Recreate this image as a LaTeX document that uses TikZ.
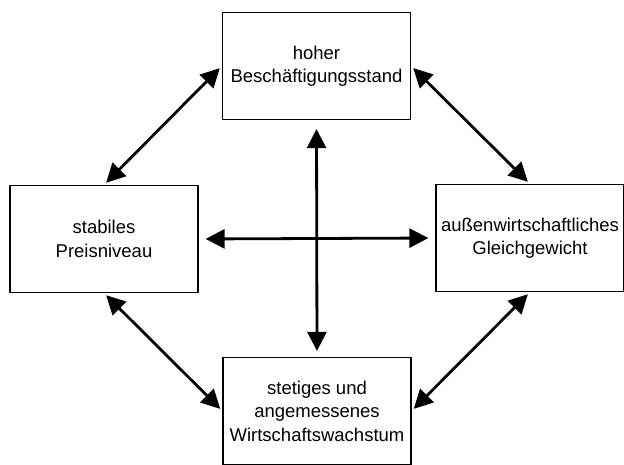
\documentclass[tikz,border=0pt]{standalone}
\usepackage{fontspec}
\setmainfont{Liberation Sans}
\usetikzlibrary{arrows.meta}
\begin{document}
\begin{tikzpicture}[x=1pt,y=-1pt,
  box/.style={draw=black,line width=1.2pt,minimum width=188pt,minimum height=107pt,
    align=center,inner sep=0pt,font=\fontsize{18.5}{23.5}\selectfont},
  arr/.style={line width=2.8pt,{Triangle[length=19pt,width=19pt]}-{Triangle[length=19pt,width=19pt]}}]
\useasboundingbox (0,0) rectangle (624,465);
\node[box] (T) at (316.5,66) {hoher\\Beschäftigungsstand};
\node[box] (L) at (104,239) {stabiles\\Preisniveau};
\node[box] (R) at (530,238) {außenwirtschaftliches\\Gleichgewicht};
\node[box] (B) at (317,411) {stetiges und\\angemessenes\\Wirtschaftswachstum};
\draw[arr,shorten <=3pt,shorten >=3pt] (L.north) -- (T.west);
\draw[arr,shorten <=3pt,shorten >=3pt] (T.east) -- (R.north);
\draw[arr,shorten <=3pt,shorten >=3pt] (L.south) -- (B.west);
\draw[arr,shorten <=3pt,shorten >=3pt] (R.south) -- (B.east);
\draw[arr,shorten <=9pt,shorten >=6pt] (T.south) -- (B.north);
\draw[arr,shorten <=7pt,shorten >=7pt] (L.east) -- (R.west);
\end{tikzpicture}
\end{document}
